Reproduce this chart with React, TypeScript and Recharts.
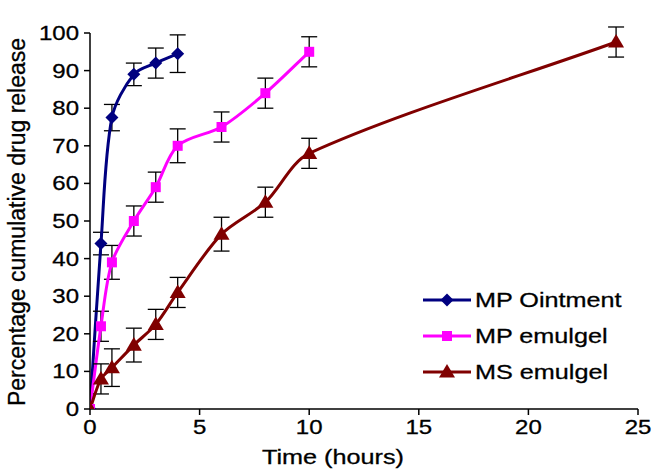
import React from "react";
import { LineChart, Line, XAxis, YAxis, ErrorBar } from "recharts";

// MP Ointment
const ointTime = [0, 0.5, 1, 2, 3, 4];
const ointRelease = [0, 44, 77.5, 89, 92, 94.5];
const ointErr = [0, 3, 3.5, 3, 4, 5];

// MP emulgel
const mpGelTime = [0, 0.5, 1, 2, 3, 4, 6, 8, 10];
const mpGelRelease = [0, 22, 39, 50, 59, 70, 75, 84, 95];
const mpGelErr = [0, 4, 4.5, 4, 4, 4.5, 4, 4, 4];

// MS emulgel
const msGelTime = [0, 0.5, 1, 2, 3, 4, 6, 8, 10, 24];
const msGelRelease = [0, 8, 11, 17, 22.5, 31, 46.5, 55, 68, 97.6];
const msGelErr = [0, 4, 5, 4.5, 4, 4, 4.5, 4, 4, 4];

const xTicks = [0, 5, 10, 15, 20, 25];
const yTicks = [0, 10, 20, 30, 40, 50, 60, 70, 80, 90, 100];

const seriesNames = ["MP Ointment", "MP emulgel", "MS emulgel"];
const COLORS = ["#000080", "#ff00ff", "#800000"];

const build = (t: number[], v: number[], e: number[]) =>
  t.map((time, i) => ({ time, value: v[i], err: e[i] }));

const FONT = "'Liberation Sans', Arial, sans-serif";

// Excel-like smoothed line: tangent direction from neighbours, length from chord
const smoothCurve = (context: any) => {
  let pts: number[][] = [];
  const k = 0.3;
  return {
    areaStart() {},
    areaEnd() {},
    lineStart() {
      pts = [];
    },
    point(x: number, y: number) {
      pts.push([+x, +y]);
    },
    lineEnd() {
      const n = pts.length;
      if (!n) return;
      const tan = pts.map((_, i) => {
        const a = pts[Math.max(0, i - 1)];
        const b = pts[Math.min(n - 1, i + 1)];
        const dx = b[0] - a[0];
        const dy = b[1] - a[1];
        const len = Math.hypot(dx, dy) || 1;
        return [dx / len, dy / len];
      });
      context.moveTo(pts[0][0], pts[0][1]);
      for (let i = 0; i < n - 1; i++) {
        const p1 = pts[i];
        const p2 = pts[i + 1];
        const d = Math.hypot(p2[0] - p1[0], p2[1] - p1[1]) * k;
        context.bezierCurveTo(
          p1[0] + tan[i][0] * d,
          p1[1] + tan[i][1] * d,
          p2[0] - tan[i + 1][0] * d,
          p2[1] - tan[i + 1][1] * d,
          p2[0],
          p2[1]
        );
      }
    },
  };
};

// marker shapes
const Diamond = ({ cx, cy, color, r = 6.5 }: any) => (
  <path d={`M${cx},${cy - r} L${cx + r},${cy} L${cx},${cy + r} L${cx - r},${cy} Z`} fill={color} />
);
const Square = ({ cx, cy, color, r = 5 }: any) => (
  <rect x={cx - r} y={cy - r} width={2 * r} height={2 * r} fill={color} />
);
const Triangle = ({ cx, cy, color, r = 8 }: any) => (
  <path d={`M${cx},${cy - r} L${cx + r},${cy + r * 0.7} L${cx - r},${cy + r * 0.7} Z`} fill={color} />
);
const MARKERS = [Diamond, Square, Triangle];

const makeDot = (idx: number) => (props: any) => {
  const M = MARKERS[idx];
  return <M key={`dot-${idx}-${props.index}`} cx={props.cx} cy={props.cy} color={COLORS[idx]} />;
};

const XTick = ({ x, y, payload }: any) => (
  <text
    transform={`translate(${x},${y + 17}) scale(1.2,1)`}
    textAnchor="middle"
    fontFamily={FONT}
    fontSize={20}
    fill="#000"
    stroke="#000"
    strokeWidth={0.3}
  >
    {payload.value}
  </text>
);

const YTick = ({ x, y, payload }: any) => (
  <text
    transform={`translate(${x - 3},${y + 7}) scale(1.2,1)`}
    textAnchor="end"
    fontFamily={FONT}
    fontSize={20}
    fill="#000"
    stroke="#000"
    strokeWidth={0.3}
  >
    {payload.value}
  </text>
);

export default function App() {
  const all = [
    build(ointTime, ointRelease, ointErr),
    build(mpGelTime, mpGelRelease, mpGelErr),
    build(msGelTime, msGelRelease, msGelErr),
  ];
  return (
    <div style={{ position: "absolute", left: 0, top: 0, width: 652, height: 471, background: "#fff" }}>
      <LineChart width={652} height={471} margin={{ top: 33, right: 14, bottom: 32, left: 30 }}>
        <XAxis
          type="number"
          dataKey="time"
          domain={[0, 25]}
          ticks={xTicks}
          allowDuplicatedCategory={false}
          allowDataOverflow
          stroke="#000"
          strokeWidth={1.5}
          tickSize={6}
          height={30}
          tick={<XTick />}
        />
        <YAxis
          type="number"
          domain={[0, 100]}
          ticks={yTicks}
          allowDataOverflow
          stroke="#000"
          strokeWidth={1.5}
          tickSize={6}
          width={60}
          tick={<YTick />}
          interval={0}
        />
        {all.map((data, i) => (
          <Line
            key={seriesNames[i]}
            data={data}
            dataKey="value"
            name={seriesNames[i]}
            type={smoothCurve as any}
            stroke={COLORS[i]}
            strokeWidth={3}
            dot={makeDot(i)}
            activeDot={false}
            isAnimationActive={false}
          >
            <ErrorBar dataKey="err" direction="y" width={8} stroke="#000" strokeWidth={1.3} />
          </Line>
        ))}
      </LineChart>

      {/* legend */}
      <div style={{ position: "absolute", left: 422, top: 282, fontFamily: FONT, fontSize: 21 }}>
        {seriesNames.map((name, i) => {
          const M = MARKERS[i];
          return (
            <div key={name} style={{ display: "flex", alignItems: "center", height: 36 }}>
              <svg width={50} height={20} style={{ flex: "none" }}>
                <line x1={1} y1={10} x2={49} y2={10} stroke={COLORS[i]} strokeWidth={3} />
                <M cx={25} cy={10} color={COLORS[i]} />
              </svg>
              <span
                style={{
                  display: "inline-block",
                  transform: "scaleX(1.2)",
                  transformOrigin: "left center",
                  marginLeft: 3,
                  color: "#000",
                  whiteSpace: "nowrap",
                  WebkitTextStroke: "0.3px #000",
                }}
              >
                {name}
              </span>
            </div>
          );
        })}
      </div>

      <div
        style={{
          position: "absolute",
          left: 333,
          top: 457,
          transform: "translate(-50%, -50%) scaleX(1.2)",
          fontFamily: FONT,
          fontSize: 21,
          color: "#000",
          whiteSpace: "nowrap",
          WebkitTextStroke: "0.3px #000",
        }}
      >
        Time (hours)
      </div>
      <div
        style={{
          position: "absolute",
          left: 17,
          top: 222,
          transform: "translate(-50%, -50%) rotate(-90deg)",
          fontFamily: FONT,
          fontSize: 23,
          color: "#000",
          whiteSpace: "nowrap",
          WebkitTextStroke: "0.3px #000",
        }}
      >
        Percentage cumulative drug release
      </div>
    </div>
  );
}
